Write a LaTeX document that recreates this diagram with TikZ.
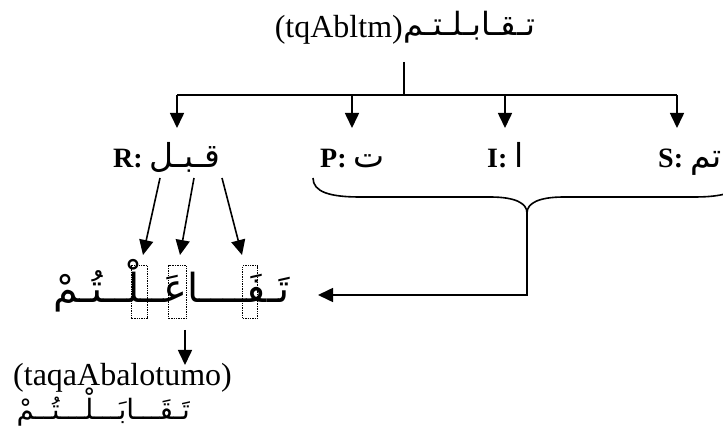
\documentclass[tikz,border=0pt]{standalone}
\usepackage{fontspec}
\setmainfont{Liberation Serif}
\newfontfamily\arabicfont[Script=Arabic]{DejaVu Sans}
\newcommand\labarfont{\fontsize{33}{36}\selectfont\arabicfont}
\TeXXeTstate=1
\usetikzlibrary{arrows.meta}
\begin{document}
\begin{tikzpicture}[x=1pt,y=-1pt,
  conn/.style={line width=1.6pt},
  arr/.style={conn,-{Triangle[length=15pt,width=14pt]}},
  lat/.style={font=\fontsize{32}{36}\selectfont, inner sep=0pt},
  ar/.style={font=\fontsize{32}{38}\selectfont\arabicfont, inner sep=0pt},
  arpat/.style={font=\fontsize{40}{46}\selectfont\arabicfont, inner sep=0pt},
  arfin/.style={font=\fontsize{28}{32}\selectfont\arabicfont, inner sep=0pt},
  lab/.style={font=\fontsize{28}{32}\selectfont, inner sep=0pt},
  slot/.style={draw, densely dotted, line width=1.4pt, inner sep=0pt}]
\useasboundingbox (0,0) rectangle (723,430);
% top word
\node[lat, anchor=base east] (toplat) at (403,38) {(tqAbltm)};
\node[ar, anchor=base west] (topar) at (403,36) {\beginR تـقـابـلـتـم\endR};
\coordinate (j) at (404,62);
\coordinate (jb) at (404,95);
\coordinate (hr) at (177,95);
\coordinate (hp) at (352,95);
\coordinate (hi) at (505,95);
\coordinate (hs) at (677,95);
\coordinate (tr) at (177,128);
\coordinate (tp) at (352,128);
\coordinate (ti) at (505,128);
\coordinate (ts) at (677,128);
\draw[conn] (j) -- (jb);
\draw[conn] (hr) -- (hs);
\draw[arr] (hr) -- (tr);
\draw[arr] (hp) -- (tp);
\draw[arr] (hi) -- (ti);
\draw[arr] (hs) -- (ts);
% labels
\node[lab, anchor=base west] (R) at (113,168) {\textbf{R:} {\labarfont\beginR قـبـل\endR}};
\node[lab, anchor=base west] (P) at (320,168) {\textbf{P:} {\labarfont\beginR ت\endR}};
\node[lab, anchor=base west] (I) at (487,168) {\textbf{I:} {\labarfont\beginR ا\endR}};
\node[lab, anchor=base west] (S) at (658,168) {\textbf{S:} {\labarfont\beginR تم\endR}};
% brace
\coordinate (btip) at (527,213);
\draw[conn] (313,178) .. controls (313,192) and (330,197) .. (360,197) -- (490,197)
  .. controls (515,197) and (527,203) .. (btip)
  .. controls (527,203) and (539,197) .. (564,197) -- (694,197)
  .. controls (724,197) and (741,192) .. (741,178);
\coordinate (pin) at (318,295);
\draw[arr] (btip) |- (pin);
% pattern word
\node[arpat, anchor=base east] (pat) at (290,303) {\beginR تَـفَــــاعَــلْــتُـمْ\endR};
\node[slot, minimum width=16pt, minimum height=53pt, anchor=north west] (s1) at (131,265) {};
\node[slot, minimum width=18pt, minimum height=53pt, anchor=north west] (s2) at (168,265) {};
\node[slot, minimum width=15pt, minimum height=53pt, anchor=north west] (s3) at (242,265) {};
\coordinate (a1) at (160,178);
\coordinate (a2) at (194,178);
\coordinate (a3) at (222,178);
\coordinate (t1) at (143,255);
\coordinate (t2) at (180,255);
\coordinate (t3) at (242,255);
\draw[arr] (a1) -- (t1);
\draw[arr] (a2) -- (t2);
\draw[arr] (a3) -- (t3);
% down arrow and result
\coordinate (d1) at (185,330);
\coordinate (d2) at (185,365);
\draw[arr] (d1) -- (d2);
\node[lat, anchor=base west] (trans) at (13,385) {(taqaAbalotumo)};
\node[arfin, anchor=base east] (final) at (190,419) {\beginR تَـقَـــابَـــلْـــتُــمْ\endR};
\end{tikzpicture}
\end{document}
